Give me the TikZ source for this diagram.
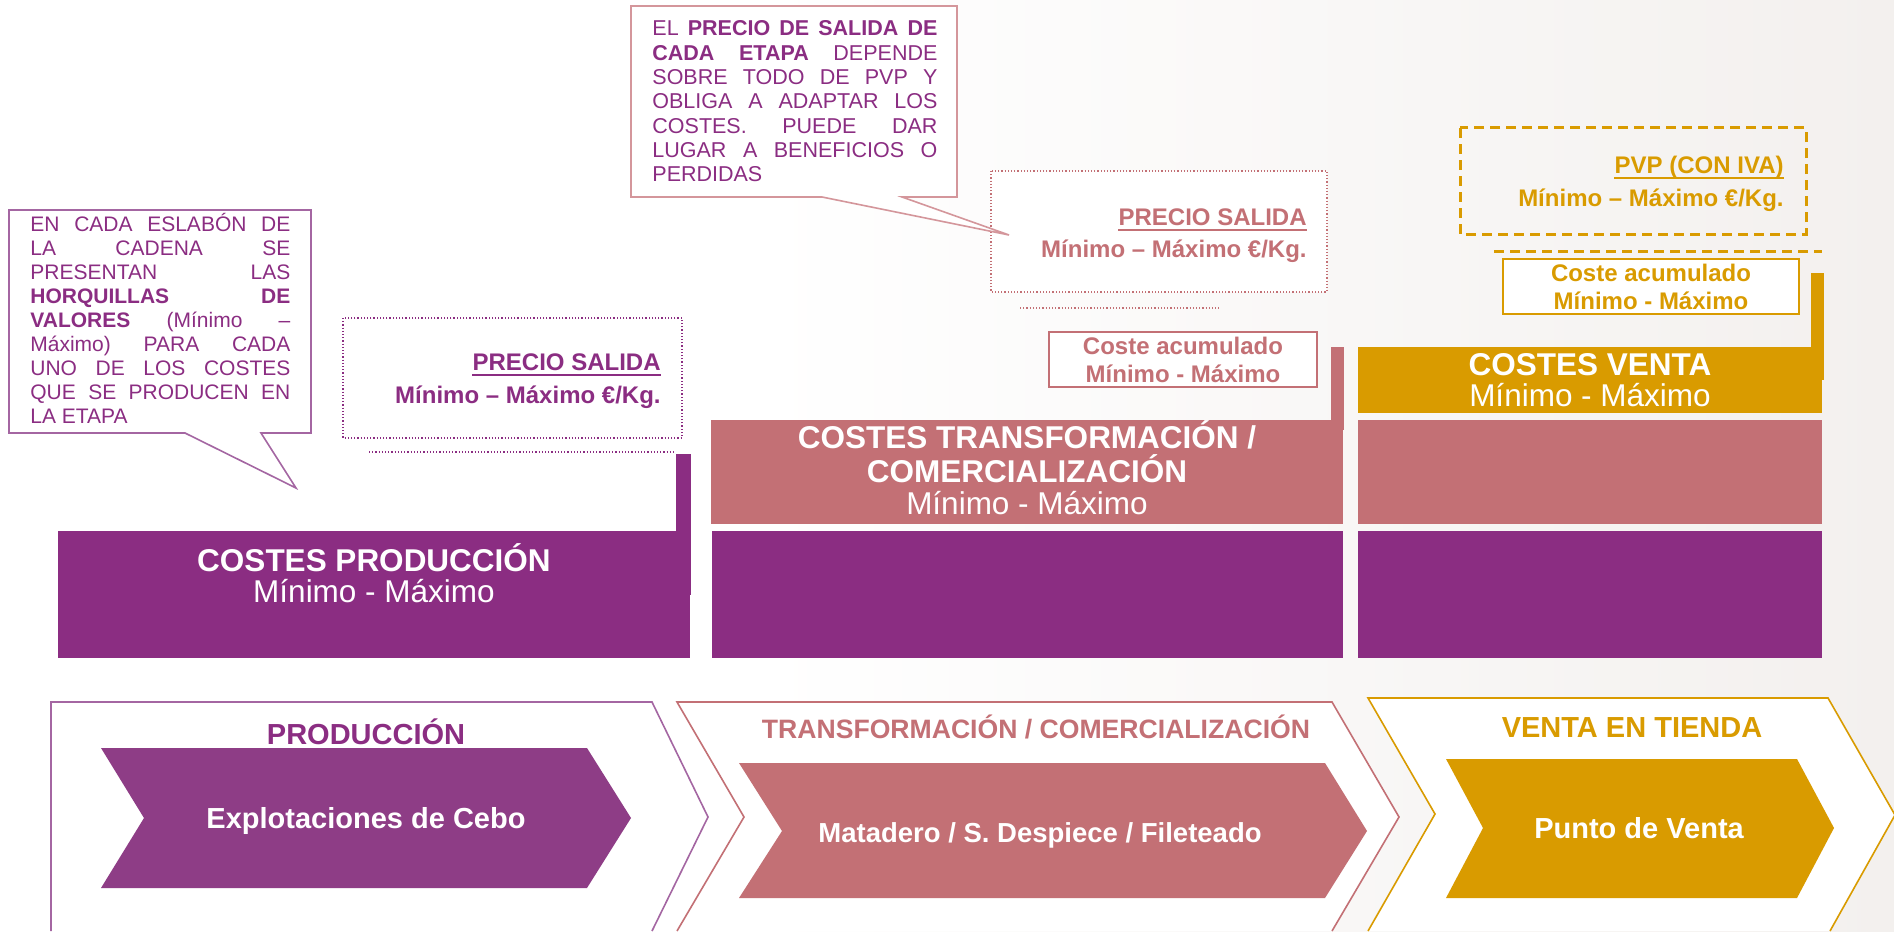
\documentclass[tikz,border=0pt]{standalone}
\usepackage{fontspec}
\setmainfont{Liberation Sans}
\usepackage{tikz}
\definecolor{purp}{HTML}{8B2D82}
\definecolor{purpch}{HTML}{8E3D86}
\definecolor{purpline}{HTML}{A466A2}
\definecolor{rose}{HTML}{C37075}
\definecolor{roseline}{HTML}{D4969B}
\definecolor{gold}{HTML}{D99B00}
\definecolor{paper}{HTML}{F3F0EE}
\tolerance=10000
\hbadness=10000
\tikzset{
  cost/.style={inner sep=0pt, anchor=base, text=white, font=\fontsize{15.75}{16}\selectfont},
  costb/.style={cost, font=\fontsize{15.75}{16}\selectfont\bfseries},
  price/.style={inner sep=0pt, anchor=base east, font=\fontsize{12}{12}\selectfont\bfseries},
  acum/.style={inner sep=0pt, anchor=base, font=\fontsize{12}{12}\selectfont\bfseries},
  stage/.style={inner sep=0pt, anchor=base, font=\fontsize{14.5}{14.5}\selectfont\bfseries},
  chev/.style={inner sep=0pt, anchor=base, text=white, font=\fontsize{14.5}{14.5}\selectfont\bfseries},
  note/.style={inner sep=0pt, anchor=base west, text=purp},
  bubble/.style={fill=white, line width=0.8pt, line join=miter},
  dotbox/.style={fill=white, densely dotted, line width=0.6pt},
  outline/.style={fill=white, line width=0.8pt, line join=miter},
  uline/.style={line width=1pt},
}

\begin{document}
\begin{tikzpicture}[x=0.5pt,y=-0.5pt]
  \useasboundingbox (0,0) rectangle (1894,931);
  \clip (0,0) rectangle (1894,931);
  % background
  \fill[white] (0,0) rectangle (1894,931);
  \shade[left color=white, right color=paper] (760,0) rectangle (1894,931);

  % stage outlines and arrows
  \draw[outline, draw=purpline] (51,931) -- (51,702) -- (652,702) -- (708,817) -- (652,931);
  \draw[outline, draw=rose] (677,931) -- (744,817) -- (677,702) -- (1332,702) -- (1399,817) -- (1332,931);
  \draw[outline, draw=gold] (1368,931) -- (1435,814) -- (1368,698) -- (1828,698) -- (1895,815) -- (1830,931);
  \fill[purpch] (101,748) -- (587,748) -- (631,818) -- (587,888) -- (101,888) -- (144,818) -- cycle;
  \fill[rose] (739,763) -- (1325,763) -- (1367,831) -- (1325,898) -- (739,898) -- (782,831) -- cycle;
  \fill[gold] (1446,759) -- (1797,759) -- (1834,828) -- (1797,898) -- (1446,898) -- (1483,828) -- cycle;

  \node[stage, text=purp] (prod) at (366,744) {PRODUCCIÓN};
  \node[stage, text=rose, font=\fontsize{13.3}{13.3}\selectfont\bfseries] (trans) at (1036,738) {TRANSFORMACIÓN / COMERCIALIZACIÓN};
  \node[stage, text=gold] (venta) at (1632,737) {VENTA EN TIENDA};
  \node[chev] (cebo) at (366,828) {Explotaciones de Cebo};
  \node[chev, font=\fontsize{13.75}{13.75}\selectfont\bfseries] (matad) at (1040,842) {Matadero / S. Despiece / Fileteado};
  \node[chev] (punto) at (1639,838) {Punto de Venta};

  % cost blocks
  \foreach \a/\b in {58/690,712/1343,1358/1822}
    \fill[purp] (\a,531) rectangle (\b,658);
  \fill[rose] (711,420) rectangle (1343,524);
  \fill[rose] (1358,420) rectangle (1822,524);
  \fill[gold] (1358,347) rectangle (1822,413);
  \fill[purp] (676,454) rectangle (691,595);
  \fill[rose] (1331,347) rectangle (1344,430);
  \fill[gold] (1811,273) rectangle (1824,380);

  \node[costb] (cprod) at (374,571) {COSTES PRODUCCIÓN};
  \node[cost] (cprodv) at (374,602) {Mínimo - Máximo};
  \node[costb] (ctrans) at (1027,448) {COSTES TRANSFORMACIÓN /};
  \node[costb] (ctrans2) at (1027,482) {COMERCIALIZACIÓN};
  \node[cost] (ctransv) at (1027,514) {Mínimo - Máximo};
  \node[costb] (cventa) at (1590,375) {COSTES VENTA};
  \node[cost] (cventav) at (1590,406) {Mínimo - Máximo};

  % accumulated cost
  \draw[draw=rose, line width=1pt, fill=white] (1049,332) rectangle (1317,387);
  \node[acum, text=rose] (actr) at (1183,354) {Coste acumulado};
  \node[acum, text=rose] (actrv) at (1183,382) {Mínimo - Máximo};
  \draw[draw=gold, line width=1pt, fill=white] (1503,259) rectangle (1799,314);
  \node[acum, text=gold] (acve) at (1651,281) {Coste acumulado};
  \node[acum, text=gold] (acvev) at (1651,309) {Mínimo - Máximo};

  % exit prices
  \draw[dotbox, draw=purp] (343,318) rectangle (682,438);
  \draw[dotbox, draw=purp] (369,452) -- (675,452);
  \node[price, text=purp] (salpr) at (661,370) {PRECIO SALIDA};
  \node[price, text=purp] (salprv) at (661,403) {Mínimo – Máximo €/Kg.};
  \draw[dotbox, draw=rose] (991,171) rectangle (1327,292);
  \draw[dotbox, draw=rose] (1020,308) -- (1219,308);
  \node[price, text=rose] (saltr) at (1307,225) {PRECIO SALIDA};
  \node[price, text=rose] (saltrv) at (1307,257) {Mínimo – Máximo €/Kg.};
  \draw[draw=gold, line width=1.5pt, dash pattern=on 5pt off 3pt] (1460,128) rectangle (1806,234);
  \draw[draw=gold, line width=1.5pt, dash pattern=on 5pt off 3pt] (1494,251) -- (1822,251);
  \node[price, text=gold] (pvp) at (1784,173) {PVP (CON IVA)};
  \node[price, text=gold] (pvpv) at (1784,206) {Mínimo – Máximo €/Kg.};
  \draw[uline, draw=purp] ([yshift=-2.5pt]salpr.base west) -- ([yshift=-2.5pt]salpr.base east);
  \draw[uline, draw=rose] ([yshift=-2.5pt]saltr.base west) -- ([yshift=-2.5pt]saltr.base east);
  \draw[uline, draw=gold] ([yshift=-2.5pt]pvp.base west) -- ([yshift=-2.5pt]pvp.base east);

  % callouts
  \draw[bubble, draw=purpline] (9,210) -- (311,210) -- (311,433) -- (261,433) -- (296,488) -- (185,433) -- (9,433) -- cycle;
  \node[note] (horq) at (30,231) {\parbox[t]{130pt}{\fontsize{10.5}{12}\selectfont
    EN CADA ESLABÓN DE\linebreak LA CADENA SE\linebreak PRESENTAN LAS\linebreak
    \textbf{HORQUILLAS DE}\linebreak \textbf{VALORES} (Mínimo –\linebreak
    Máximo) PARA CADA\linebreak UNO DE LOS COSTES\linebreak
    QUE SE PRODUCEN EN\linebreak LA ETAPA}};
  \draw[bubble, draw=roseline] (631,6) -- (957,6) -- (957,197) -- (902,197) -- (1009,235) -- (822,197) -- (631,197) -- cycle;
  \node[note] (pvpnote) at (652,36) {\parbox[t]{142.5pt}{\fontsize{10.75}{12.15}\selectfont
    EL \textbf{PRECIO DE SALIDA DE}\linebreak \textbf{CADA ETAPA} DEPENDE\linebreak
    SOBRE TODO DE PVP Y\linebreak OBLIGA A ADAPTAR LOS\linebreak
    COSTES. PUEDE DAR\linebreak LUGAR A BENEFICIOS O\linebreak PERDIDAS}};
\end{tikzpicture}
\end{document}
